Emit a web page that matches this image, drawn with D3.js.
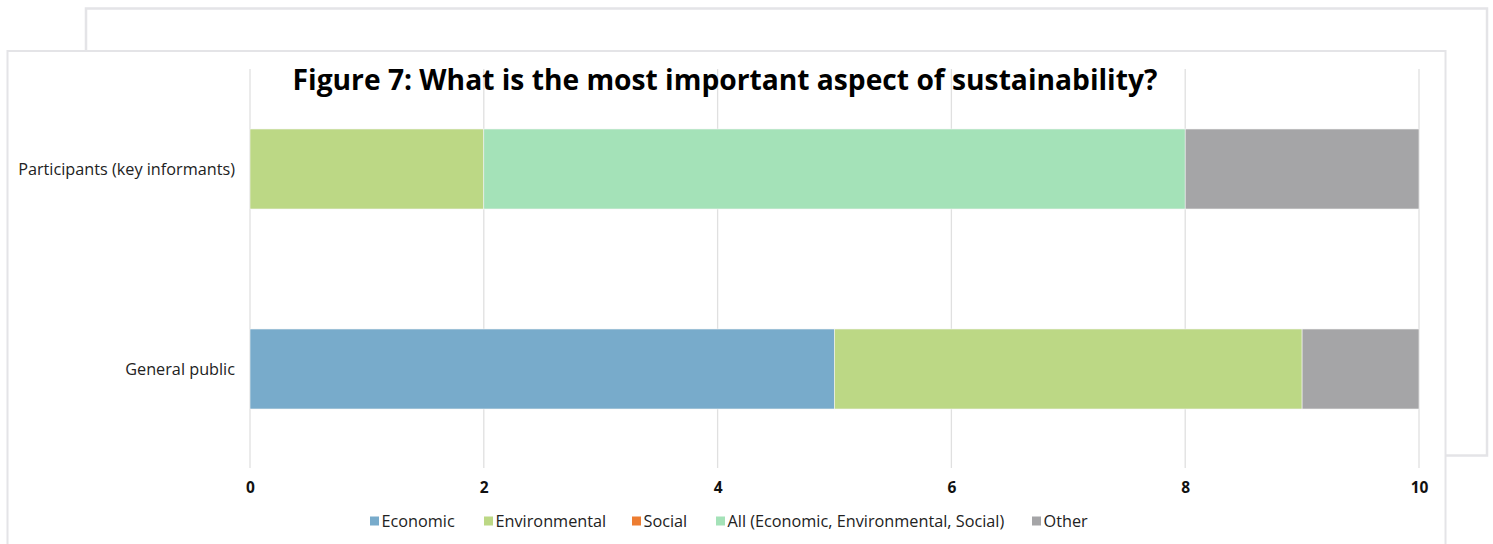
<!DOCTYPE html>
<html><head><meta charset="utf-8">
<script src="https://cdn.jsdelivr.net/npm/d3@7"></script>
<style>body{margin:0;background:#fff;overflow:hidden}</style>
</head><body><svg id="c" width="1493" height="544"></svg>
<script>
const categories = ["Participants (key informants)", "General public"];
const seriesNames = ["Economic", "Environmental", "Social", "All (Economic, Environmental, Social)", "Other"];
const economic = [0, 5];
const environmental = [2, 4];
const social = [0, 0];
const allThree = [6, 0];
const other = [2, 1];
const tickValues = [0, 2, 4, 6, 8, 10];
const colors = ["#78abcb", "#bcd885", "#ed7d31", "#a4e2b8", "#a5a5a7"];
const titleText = "Figure 7: What is the most important aspect of sustainability?";

const svg = d3.select("#c");
const FONT = "'Open Sans', Lato, sans-serif";

function fitWidth(sel, target){
  const w = sel.node().getComputedTextLength();
  const fs = parseFloat(sel.attr("font-size"));
  sel.attr("font-size", fs*target/w);
  return fs*target/w;
}

// background panels
svg.append("rect").attr("x",86).attr("y",8.5).attr("width",1401).attr("height",447)
  .attr("fill","#fff").attr("stroke","#e4e4e7").attr("stroke-width",2.5);
svg.append("rect").attr("x",7.5).attr("y",51).attr("width",1438).attr("height",500)
  .attr("fill","#fff").attr("stroke","#e4e4e7").attr("stroke-width",2);

const x = d3.scaleLinear().domain([0,10]).range([250,1419]);
const y = d3.scaleBand().domain(categories).range([69,469]).paddingInner(0.6).paddingOuter(0.3);

// grid
svg.append("g").selectAll("line").data(tickValues).join("line")
  .attr("x1",d=>x(d)).attr("x2",d=>x(d)).attr("y1",69).attr("y2",468)
  .attr("stroke","#e0e0e0").attr("stroke-width",1.3);

// stacked data
const rows = categories.map((c,i)=>({cat:c, Economic:economic[i], Environmental:environmental[i], Social:social[i], "All (Economic, Environmental, Social)":allThree[i], Other:other[i]}));
const stack = d3.stack().keys(seriesNames)(rows);
const color = d3.scaleOrdinal().domain(seriesNames).range(colors);

svg.append("g").selectAll("g").data(stack).join("g").attr("fill",d=>color(d.key))
  .selectAll("rect").data(d=>d.filter(s=>s[1]-s[0]>0)).join("rect")
  .attr("x",d=>x(d[0])).attr("width",d=>x(d[1])-x(d[0]))
  .attr("y",d=>y(d.data.cat)).attr("height",y.bandwidth())
  .attr("stroke","#f4f4f4").attr("stroke-width",0.6);

// x axis
const xa = svg.append("g").attr("transform","translate(0,488)")
  .call(d3.axisBottom(x).tickValues(tickValues).tickSize(0).tickPadding(0).tickFormat(d3.format("d")));
xa.select(".domain").remove();
xa.selectAll("text").attr("font-family",FONT).attr("font-weight","bold").attr("font-size",15.5)
  .attr("fill","#111").attr("dy","0.35em");

// y axis
const ya = svg.append("g").attr("transform","translate(235,0)")
  .call(d3.axisLeft(y).tickSize(0).tickPadding(0));
ya.select(".domain").remove();
ya.selectAll("text").attr("font-family",FONT).attr("font-size",14).attr("fill","#222").attr("dy","0.35em");
const yfs = fitWidth(ya.selectAll("text").filter(d=>d===categories[0]), 217);
ya.selectAll("text").attr("font-size",yfs);

// title
const title = svg.append("text").attr("x",725).attr("y",90).attr("text-anchor","middle")
  .attr("font-family",FONT).attr("font-weight","bold").attr("font-size",25).attr("fill","#000")
  .text(titleText);
fitWidth(title, 865);

// legend
const legX = [370, 484, 632, 716, 1032];
const leg = svg.append("g").selectAll("g").data(seriesNames).join("g")
  .attr("transform",(d,i)=>`translate(${legX[i]},521)`);
leg.append("rect").attr("x",0).attr("y",-4.5).attr("width",9).attr("height",9).attr("fill",d=>color(d));
const legText = leg.append("text").attr("x",11.5).attr("dy","0.35em").attr("font-family",FONT).attr("font-size",14)
  .attr("fill","#222").text(d=>d);
const lfs = fitWidth(legText.filter(d=>d===seriesNames[3]), 277);
legText.attr("font-size",lfs);
</script></body></html>
